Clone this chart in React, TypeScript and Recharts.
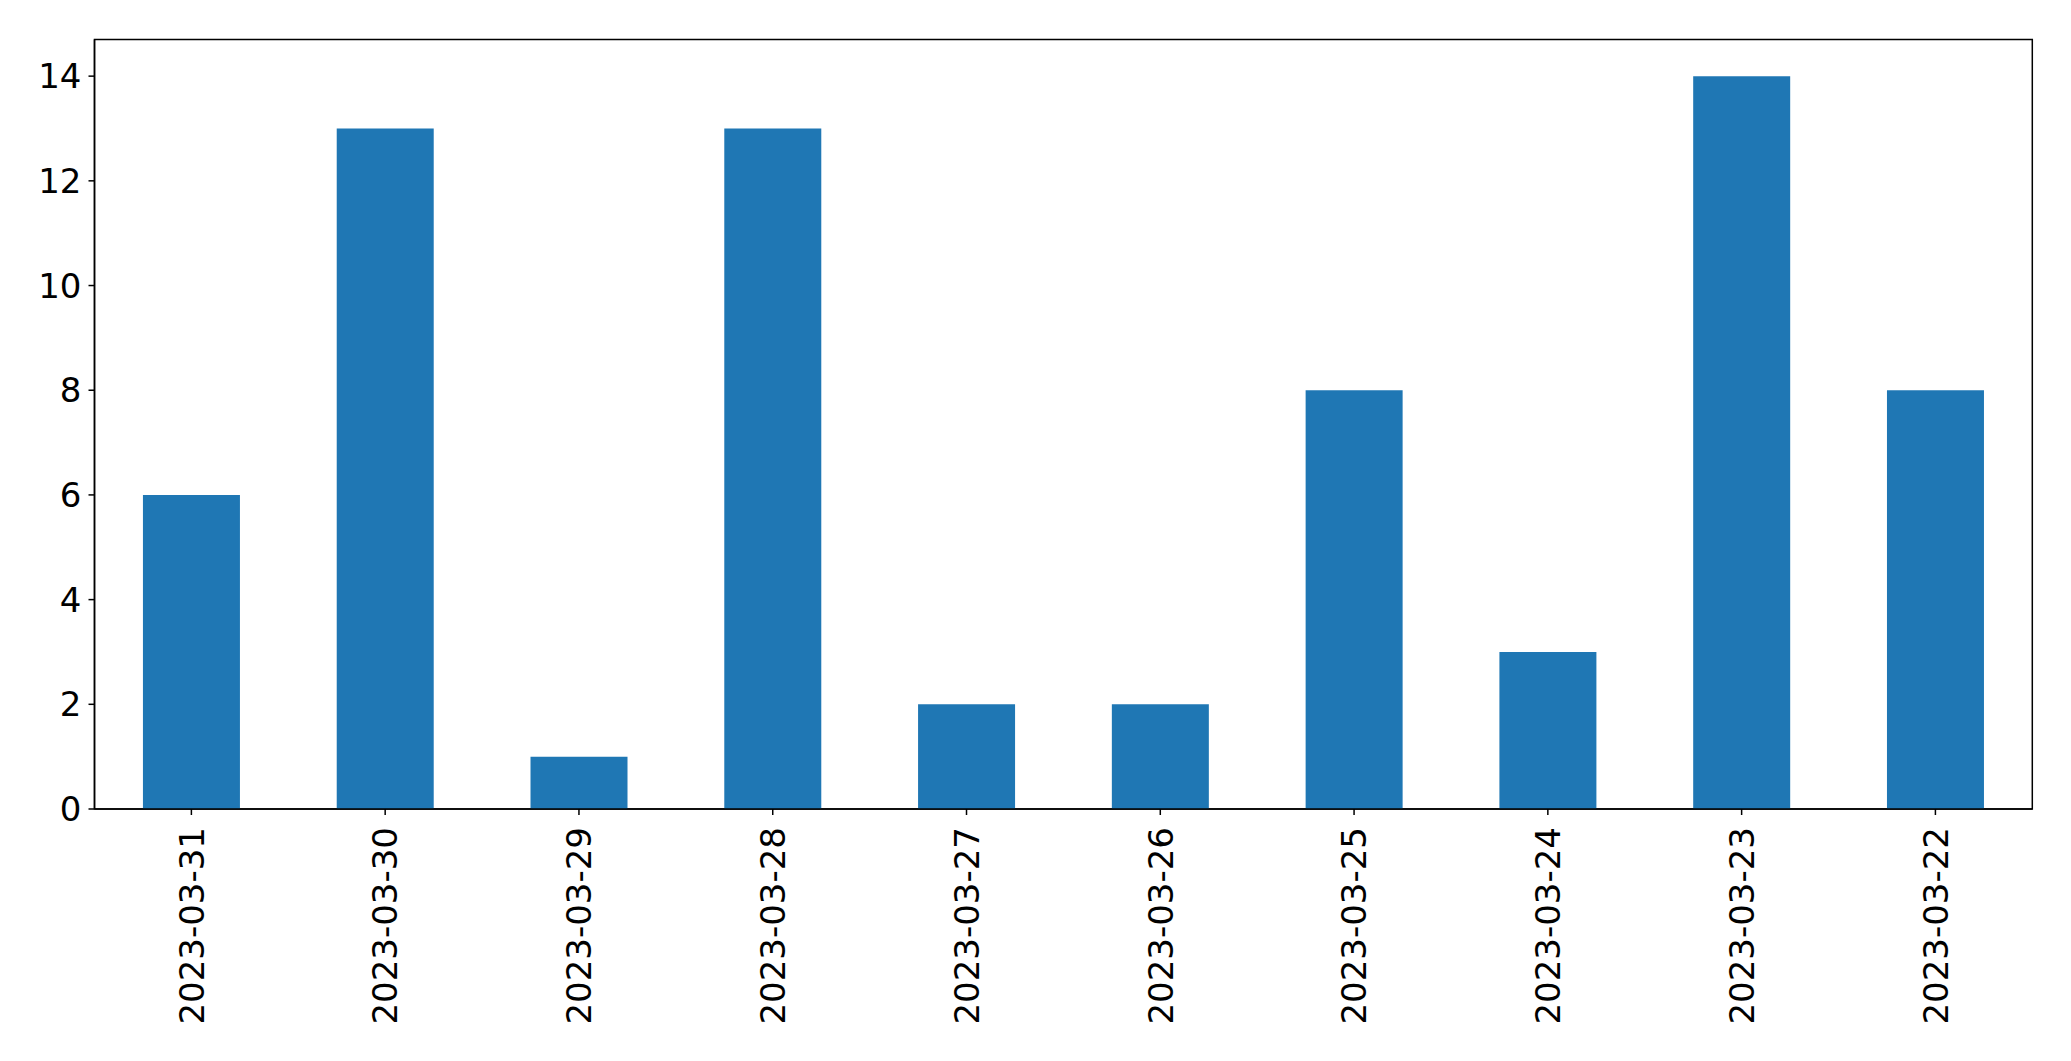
import { Bar, BarChart, ReferenceArea, XAxis, YAxis } from "recharts"

const dates = [
  "2023-03-31",
  "2023-03-30",
  "2023-03-29",
  "2023-03-28",
  "2023-03-27",
  "2023-03-26",
  "2023-03-25",
  "2023-03-24",
  "2023-03-23",
  "2023-03-22",
]
const counts = [6, 13, 1, 13, 2, 2, 8, 3, 14, 8]
const yTicks = [0, 2, 4, 6, 8, 10, 12, 14]
const Y_MAX = 14.7

const FONT = "'DejaVu Sans', sans-serif"
const BAR_COLOR = "#1f77b4"

const chartData = dates.map((date, i) => ({ date, count: counts[i] }))

const DateTick = ({ x, y, payload }: { x: number; y: number; payload: { value: string } }) => (
  <g transform={`translate(${x},${y})`}>
    <text
      transform="rotate(-90)"
      textAnchor="end"
      dy="0.36em"
      fontSize={34}
      fontFamily={FONT}
      fill="#000"
    >
      {payload.value}
    </text>
  </g>
)

export default function App() {
  return (
    <div style={{ position: "absolute", left: 0, top: 0, background: "#fff" }}>
      <BarChart
        width={2071}
        height={1061}
        data={chartData}
        margin={{ top: 39.5, right: 38.7, bottom: 0, left: 0 }}
        barCategoryGap="25%"
      >
        <XAxis
          dataKey="date"
          height={252}
          tick={DateTick as never}
          tickSize={6}
          tickMargin={12}
          interval={0}
          stroke="#000"
          axisLine={{ stroke: "#000", strokeWidth: 1.5 }}
          tickLine={{ stroke: "#000", strokeWidth: 1.5 }}
        />
        <YAxis
          width={94.5}
          domain={[0, Y_MAX]}
          ticks={yTicks}
          type="number"
          tickSize={6}
          tickMargin={7}
          tick={{ fontSize: 34, fontFamily: FONT, fill: "#000" }}
          axisLine={{ stroke: "#000", strokeWidth: 1.5 }}
          tickLine={{ stroke: "#000", strokeWidth: 1.5 }}
          allowDataOverflow
        />
        <Bar dataKey="count" fill={BAR_COLOR} isAnimationActive={false} />
        {/* frame on the top and right sides, like matplotlib's spines */}
        <ReferenceArea
          x1={dates[0]}
          x2={dates[dates.length - 1]}
          y1={0}
          y2={Y_MAX}
          fill="none"
          fillOpacity={0}
          stroke="#000"
          strokeWidth={1.5}
          ifOverflow="visible"
        />
      </BarChart>
    </div>
  )
}
